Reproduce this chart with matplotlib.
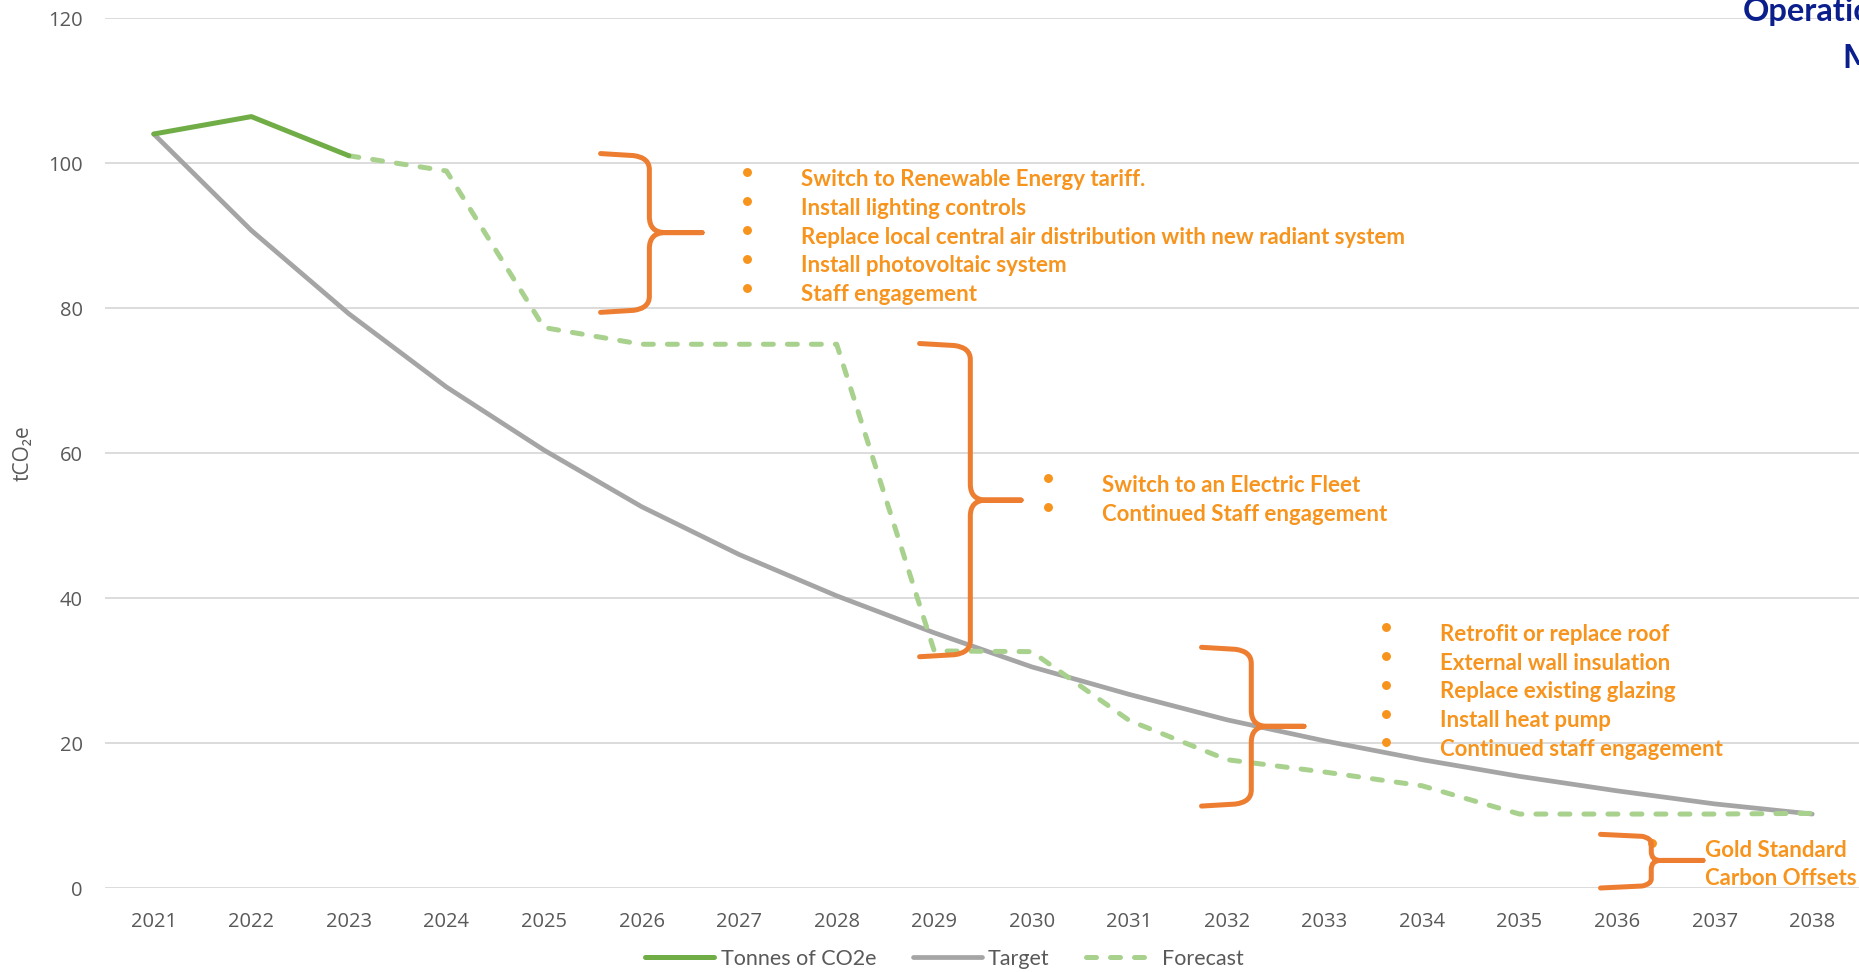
import numpy as np
import matplotlib.pyplot as plt
from matplotlib.path import Path
from matplotlib.patches import PathPatch
from matplotlib.transforms import IdentityTransform

years = list(range(2021, 2039))
actual_years = [2021, 2022, 2023]
actual = [104.0, 106.4, 101.0]
target = [104.0, 90.7, 79.2, 69.1, 60.4, 52.6, 46.0, 40.3, 35.2, 30.5,
          26.7, 23.2, 20.3, 17.7, 15.4, 13.4, 11.6, 10.2]
forecast_years = list(range(2023, 2039))
forecast = [101.0, 98.9, 77.3, 75.0, 75.0, 75.0, 32.7, 32.6, 23.1, 17.7,
            16.0, 14.1, 10.2, 10.2, 10.2, 10.3]

block1 = ["Switch to Renewable Energy tariff.", "Install lighting controls",
          "Replace local central air distribution with new radiant system",
          "Install photovoltaic system", "Staff engagement"]
block2 = ["Switch to an Electric Fleet", "Continued Staff engagement"]
block3 = ["Retrofit or replace roof", "External wall insulation",
          "Replace existing glazing", "Install heat pump",
          "Continued staff engagement"]
block4 = ["Gold Standard", "Carbon Offsets"]

GREEN = "#70AD47"
GREY = "#A5A5A5"
LIGHT = "#A9D18E"
BRACE = "#ED7D31"
ORANGE = "#F7941D"
TXT = "#595959"

W, H = 1859, 972
fig = plt.figure(figsize=(W / 100, H / 100), dpi=100)
ax = fig.add_axes([105 / W, 84 / H, 1756 / W, 870 / H])
ax.set_xlim(2020.5, 2038.5)
ax.set_ylim(0, 120)

ax.set_yticks(range(0, 121, 20))
ax.set_xticks(years)
ax.grid(axis="y", color="#D9D9D9", lw=1.3)
ax.set_axisbelow(True)
for s in ax.spines.values():
    s.set_visible(False)
ax.tick_params(length=0, colors=TXT, labelsize=14.5)
ax.tick_params(axis="x", pad=17)
ax.tick_params(axis="y", pad=16)
for lab in ax.get_xticklabels() + ax.get_yticklabels():
    lab.set_family("Open Sans")
ax.set_ylabel("tCO₂e", color=TXT, fontsize=15, family=["Open Sans", "DejaVu Sans"])
ax.yaxis.set_label_coords(-0.0405, 0.5)

ax.plot(years, target, color=GREY, lw=3.4, solid_capstyle="round", label="Target", zorder=3)
ax.plot(forecast_years, forecast, color=LIGHT, lw=3.6, dashes=(2, 2.8),
        dash_capstyle="round", label="Forecast", zorder=4)
ax.plot(actual_years, actual, color=GREEN, lw=3.6, solid_capstyle="round",
        label="Tonnes of CO2e", zorder=5)

h, l = ax.get_legend_handles_labels()
order = [2, 0, 1]
fig.legend([h[i] for i in order], [l[i] for i in order], loc="center",
           bbox_to_anchor=(0.508, 0.0134), ncol=3, frameon=False,
           handlelength=3.2, handletextpad=0.3, columnspacing=1.7,
           prop={"family": "Lato", "size": 15.5}, labelcolor=TXT)


def brace(x0, x1, x2, ytop, ybot, ymid, r=16):
    t = ax.transData
    X0, T = t.transform((x0, ytop))
    X1, B = t.transform((x1, ybot))
    X2, M = t.transform((x2, ymid))
    verts = [(X0, T), (X1 - r, T - 2), (X1, T - 4), (X1, T - r), (X1, M + r), (X1, M),
             (X1 + r, M), (X2, M),
             (X2, M), (X1 + r, M), (X1, M), (X1, M - r), (X1, B + r), (X1, B + 4),
             (X1 - r, B + 2), (X0, B)]
    codes = [Path.MOVETO, Path.LINETO, Path.CURVE3, Path.CURVE3, Path.LINETO,
             Path.CURVE3, Path.CURVE3, Path.LINETO,
             Path.MOVETO, Path.LINETO, Path.CURVE3, Path.CURVE3, Path.LINETO,
             Path.CURVE3, Path.CURVE3, Path.LINETO]
    p = PathPatch(Path(verts, codes), transform=IdentityTransform(), fill=False,
                  edgecolor=BRACE, lw=3.6, capstyle="round", joinstyle="round", zorder=6)
    fig.add_artist(p)


def bullets(lines, xb, xt, y0, dy=3.98, dots=True):
    for i, s in enumerate(lines):
        y = y0 - i * dy
        if dots:
            ax.plot(xb, y + 1.0, "o", color=ORANGE, ms=5.4, clip_on=False, zorder=7)
        ax.text(xt, y, s, color=ORANGE, fontsize=16, fontweight="bold",
                family="Lato", va="center", ha="left", clip_on=False, zorder=7)


brace(2025.58, 2026.08, 2026.62, 101.3, 79.4, 90.4)
brace(2028.85, 2029.37, 2029.89, 75.1, 31.9, 53.5)
brace(2031.74, 2032.25, 2032.79, 33.2, 11.3, 22.3)
brace(2035.83, 2036.35, 2036.88, 7.4, 0.0, 3.8, r=9)

bullets(block1, 2027.08, 2027.63, 97.74)
bullets(block2, 2030.17, 2030.72, 55.5)
bullets(block3, 2033.63, 2034.18, 35.0)
bullets(block4, 2036.36, 2036.90, 5.24, dots=False)
ax.plot(2036.36, 6.2, "o", color=ORANGE, ms=5.4, clip_on=False, zorder=7)

fig.text(1743 / W, 1 - 21 / H, "Operational", color="#0B1F8C", fontsize=23.5,
         fontweight="bold", family="Lato", va="baseline", ha="left")
fig.text(1842 / W, 1 - 68 / H, "M", color="#0B1F8C", fontsize=24,
         fontweight="bold", family="Lato", va="baseline", ha="left")

fig.savefig("out.png", dpi=100)
